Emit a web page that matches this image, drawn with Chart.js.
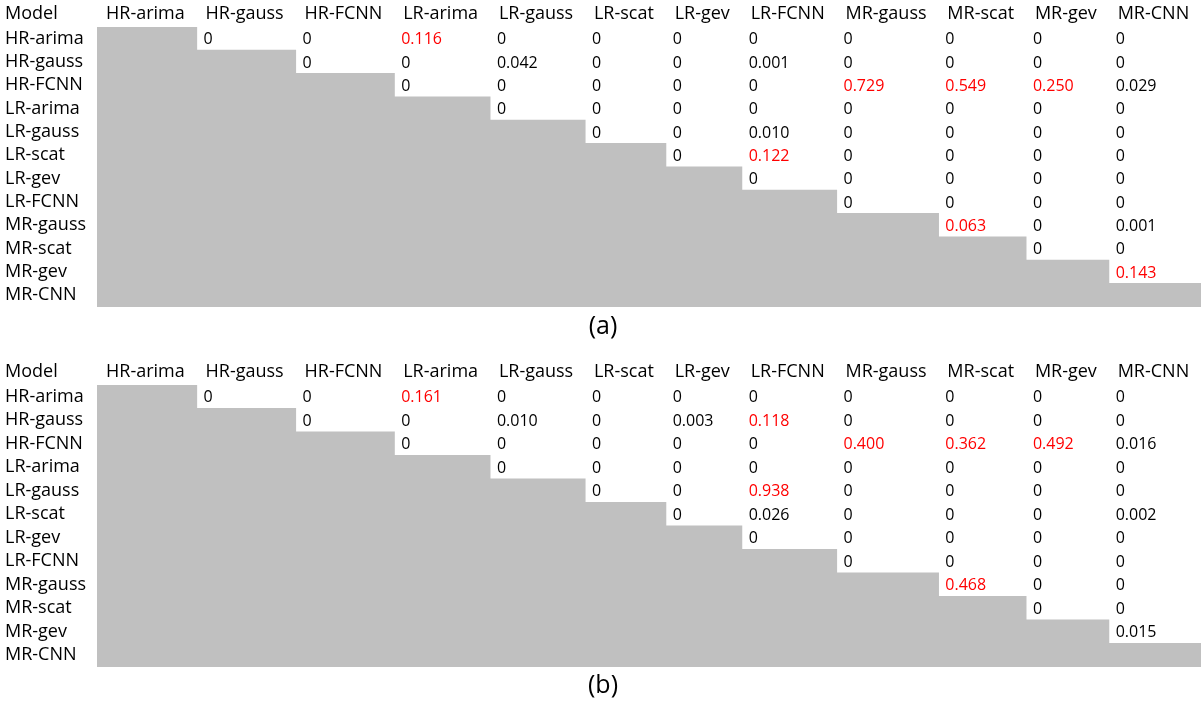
<!DOCTYPE html>
<html><head><meta charset="utf-8">
<script src="https://cdn.jsdelivr.net/npm/chart.js@4.4.1/dist/chart.umd.min.js"></script>
<style>
html,body{margin:0;padding:0;background:#fff;overflow:hidden;width:1201px;height:701px;}
canvas{display:block;position:absolute;left:0;}
#ca{top:0;} #cb{top:358px;}
</style></head><body>
<canvas id="ca" width="1201" height="358"></canvas>
<canvas id="cb" width="1201" height="343"></canvas>
<script>
// ---- data ----
const models = ['HR-arima','HR-gauss','HR-FCNN','LR-arima','LR-gauss','LR-scat','LR-gev','LR-FCNN','MR-gauss','MR-scat','MR-gev','MR-CNN'];
const cornerLabel = 'Model';
const captions = ['(a)', '(b)'];
const alpha = 0.05;
// upper triangle: row r lists p-values vs columns r+1 .. 11
const pValuesA = [
  [0, 0, 0.116, 0, 0, 0, 0, 0, 0, 0, 0],
  [0, 0, 0.042, 0, 0, 0.001, 0, 0, 0, 0],
  [0, 0, 0, 0, 0, 0.729, 0.549, 0.250, 0.029],
  [0, 0, 0, 0, 0, 0, 0, 0],
  [0, 0, 0.010, 0, 0, 0, 0],
  [0, 0.122, 0, 0, 0, 0],
  [0, 0, 0, 0, 0],
  [0, 0, 0, 0],
  [0.063, 0, 0.001],
  [0, 0],
  [0.143],
  []
];
const pValuesB = [
  [0, 0, 0.161, 0, 0, 0, 0, 0, 0, 0, 0],
  [0, 0, 0.010, 0, 0.003, 0.118, 0, 0, 0, 0],
  [0, 0, 0, 0, 0, 0.400, 0.362, 0.492, 0.016],
  [0, 0, 0, 0, 0, 0, 0, 0],
  [0, 0, 0.938, 0, 0, 0, 0],
  [0, 0.026, 0, 0, 0, 0.002],
  [0, 0, 0, 0, 0],
  [0, 0, 0, 0],
  [0.468, 0, 0],
  [0, 0],
  [0.015],
  []
];

// ---- layout (table-like auto column widths from header text) ----
const FONT = '"Open Sans", "Noto Sans", sans-serif';
const AREA_W = 1104;
const mctx = document.createElement('canvas').getContext('2d');
mctx.font = '18px ' + FONT;
const textW = models.map(m => mctx.measureText(m).width);
const pad = (AREA_W - textW.reduce((a, b) => a + b, 0)) / models.length;
const edges = [0];
textW.forEach(w => edges.push(edges[edges.length - 1] + w + pad));
const total = edges[edges.length - 1];

const cellText = (values) => ({
  id: 'cellText',
  afterDatasetsDraw(chart) {
    const {ctx, scales: {x, y}} = chart;
    ctx.save();
    ctx.textBaseline = 'middle';
    ctx.textAlign = 'left';
    ctx.font = '16px ' + FONT;
    values.forEach((row, r) => row.forEach((v, k) => {
      const c = r + 1 + k;
      ctx.fillStyle = v > alpha ? '#ff0000' : '#000000';
      ctx.fillText(v === 0 ? '0' : v.toFixed(3), x.getPixelForValue(edges[c]) + 7, y.getPixelForValue(r) + 1);
    }));
    ctx.font = '18px ' + FONT;
    ctx.fillStyle = '#000000';
    ctx.fillText(cornerLabel, y.left, x.bottom - 2 - 10.8);
    ctx.restore();
  }
});

function makeTable(id, values, caption, titlePad) {
  new Chart(document.getElementById(id), {
    type: 'bar',
    data: {
      labels: models,
      datasets: [{
        data: models.map((m, r) => [0, edges[r + 1]]),
        backgroundColor: '#c0c0c0',
        borderWidth: 0,
        barPercentage: 1,
        categoryPercentage: 1,
        inflateAmount: 0.6
      }]
    },
    options: {
      indexAxis: 'y',
      responsive: false,
      animation: false,
      devicePixelRatio: 1,
      layout: {padding: {left: 5, right: 0, top: 0, bottom: 0}},
      scales: {
        x: {
          type: 'linear', position: 'top', min: 0, max: total,
          grid: {display: false, drawTicks: false}, border: {display: false},
          afterBuildTicks: s => { s.ticks = edges.slice(0, -1).map(e => ({value: e + 9})); },
          afterFit: s => { s.height = 27; s.paddingLeft = 0; s.paddingRight = 0; },
          ticks: {
            align: 'start', padding: 2, autoSkip: false, maxRotation: 0, minRotation: 0,
            color: '#000', font: {family: FONT, size: 18},
            callback: (v, i) => models[i]
          }
        },
        y: {
          type: 'category', offset: true,
          grid: {display: false, drawTicks: false}, border: {display: false},
          afterFit: s => { s.width = 92; },
          ticks: {crossAlign: 'far', padding: 0, autoSkip: false, color: '#000', font: {family: FONT, size: 18}}
        }
      },
      plugins: {
        legend: {display: false},
        tooltip: {enabled: false},
        title: {
          display: true, position: 'bottom', text: caption, color: '#000',
          font: {family: FONT, size: 25, weight: 'normal', lineHeight: 1.2}, padding: titlePad
        }
      }
    },
    plugins: [cellText(values)]
  });
}

makeTable('ca', pValuesA, captions[0], {top: 5, bottom: 16});
makeTable('cb', pValuesB, captions[1], {top: 4, bottom: 0});
</script>
</body></html>
